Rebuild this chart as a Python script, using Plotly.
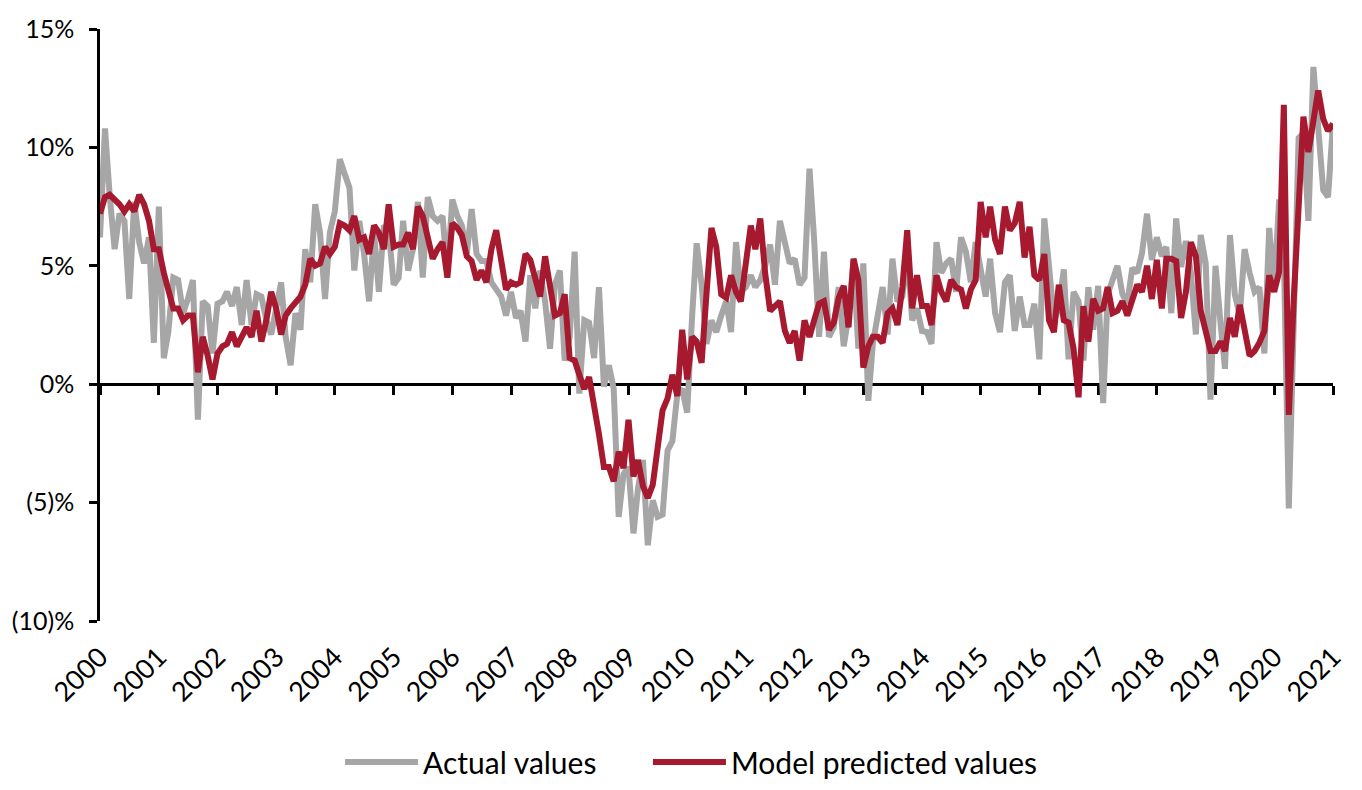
import pandas as pd
import plotly.graph_objects as go

start_month = "2000-01-01"
n_months = 253

actual_values = [
    6.2, 10.8, 8.0, 5.7, 7.2, 6.9, 3.6, 7.7, 6.0, 5.1, 6.2, 1.75,
    7.5, 1.1, 2.2, 4.5, 4.4, 3.0, 3.6, 4.4, -1.5, 3.5, 3.3, 1.3,
    3.4, 3.5, 3.9, 3.3, 4.1, 2.5, 4.4, 2.5, 3.8, 3.7, 2.7, 2.1,
    3.2, 4.3, 2.0, 0.8, 3.0, 2.3, 5.7, 4.3, 7.6, 6.4, 3.6, 6.4,
    7.3, 9.5, 8.9, 8.3, 4.8, 6.9, 5.5, 3.5, 6.4, 3.9, 6.7, 6.5,
    4.2, 4.5, 6.9, 4.8, 5.7, 7.7, 4.5, 7.9, 7.1, 6.9, 7.1, 4.7,
    7.8, 7.1, 6.7, 5.5, 7.4, 5.5, 5.2, 5.2, 4.3, 4.0, 3.7, 2.9,
    3.9, 2.8, 3.1, 1.8, 4.6, 3.2, 4.8, 3.5, 1.5, 4.2, 4.8, 1.0,
    2.0, 5.6, -0.4, 2.7, 2.6, 1.1, 4.1, -0.1, 0.8, -0.2, -5.6, -3.8,
    -3.5, -6.3, -4.4, -3.2, -6.8, -4.9, -5.6, -5.5, -2.8, -2.4, -0.4, -0.2,
    -1.2, 2.9, 5.95, 4.2, 1.7, 2.7, 2.2, 2.9, 3.5, 2.2, 6.0, 3.9,
    4.1, 4.6, 4.1, 4.4, 5.0, 5.9, 4.2, 6.9, 6.0, 5.1, 5.3, 4.2,
    4.5, 9.1, 6.1, 2.0, 5.6, 2.0, 2.4, 4.1, 1.6, 2.9, 5.2, 1.5,
    5.1, -0.7, 1.7, 3.0, 4.1, 2.1, 5.3, 3.5, 3.7, 5.6, 2.7, 3.2,
    2.25, 2.2, 1.7, 6.0, 4.7, 5.1, 5.3, 3.9, 6.2, 5.6, 4.3, 6.0,
    5.0, 3.7, 5.3, 3.0, 2.2, 4.3, 4.6, 2.25, 3.7, 2.5, 2.5, 3.4,
    1.05, 7.0, 5.0, 2.7, 3.2, 4.85, 1.05, 3.9, 3.5, 1.0, 4.1, 2.3,
    4.15, -0.8, 3.8, 4.4, 5.0, 3.8, 3.4, 4.9, 4.7, 5.55, 7.2, 5.25,
    6.2, 5.4, 5.8, 3.0, 7.0, 4.95, 6.05, 4.7, 2.1, 6.3, 5.1, -0.65,
    5.0, 2.6, 0.65, 6.3, 3.8, 2.9, 5.7, 4.7, 3.9, 4.1, 1.3, 6.6,
    4.0, 7.8, 5.5, -5.25, 2.0, 10.4, 10.6, 6.9, 13.4, 10.8, 8.2, 7.9,
    11.0,
]

model_values = [
    7.2, 7.9, 8.0, 7.8, 7.6, 7.3, 7.6, 7.3, 8.0, 7.6, 6.9, 5.7,
    5.7, 4.7, 3.9, 3.2, 3.2, 2.7, 2.9, 2.9, 0.5, 2.0, 1.2, 0.2,
    1.3, 1.6, 1.7, 2.2, 1.6, 2.0, 2.4, 2.0, 3.1, 1.8, 2.7, 3.9,
    3.2, 2.1, 2.9, 3.2, 3.5, 3.7, 4.2, 5.3, 5.0, 5.1, 5.8, 5.5,
    5.8, 6.8, 6.7, 6.5, 7.1, 6.1, 6.2, 5.5, 6.7, 6.4, 5.7, 7.6,
    5.8, 5.9, 5.9, 6.4, 5.7, 7.5, 7.1, 6.3, 5.3, 5.7, 6.0, 4.5,
    6.8, 6.6, 6.3, 5.4, 5.2, 4.4, 4.8, 4.3, 5.7, 6.5, 5.0, 4.0,
    4.3, 4.2, 4.3, 5.5, 5.25, 4.5, 3.7, 5.4, 4.2, 2.9, 3.0, 3.8,
    1.1, 1.0, 0.4, -0.2, 0.3, -0.8, -2.1, -3.5, -3.5, -4.1, -2.85, -3.55,
    -1.5, -3.9, -3.2, -4.3, -4.8, -4.25, -2.7, -1.1, -0.6, 0.4, -0.5, 2.3,
    0.2, 2.0, 1.8, 0.9, 3.8, 6.6, 5.8, 3.8, 3.65, 4.6, 3.9, 3.5,
    5.1, 6.7, 5.7, 7.0, 4.7, 3.1, 3.3, 3.5, 2.25, 1.75, 2.25, 1.0,
    2.7, 2.0, 2.7, 3.4, 3.5, 2.3, 2.6, 3.65, 4.15, 2.4, 5.3, 4.4,
    0.7, 1.6, 2.0, 2.0, 1.75, 3.0, 3.2, 2.5, 4.1, 6.5, 3.2, 4.6,
    3.3, 3.3, 2.5, 4.6, 3.9, 3.5, 4.4, 4.1, 4.0, 3.2, 4.0, 4.4,
    7.7, 6.2, 7.5, 6.1, 5.5, 7.5, 6.5, 6.8, 7.7, 5.35, 6.65, 4.6,
    4.4, 5.5, 2.7, 2.2, 4.2, 2.7, 2.6, 1.5, -0.55, 3.3, 1.8, 3.6,
    3.1, 3.2, 4.1, 3.0, 3.1, 3.5, 2.9, 3.65, 4.2, 3.9, 5.0, 3.6,
    5.25, 3.2, 5.3, 5.3, 5.2, 2.8, 3.9, 6.0, 5.4, 3.1, 2.3, 1.4,
    1.4, 1.8, 1.4, 2.8, 2.0, 3.35, 2.3, 1.2, 1.4, 1.75, 2.25, 4.6,
    3.9, 4.75, 11.8, -1.3, 3.5, 8.0, 11.3, 9.8, 11.0, 12.4, 11.2, 10.7,
    11.0,
]

year_ticks = list(range(2000, 2022))
y_tick_values = [-10, -5, 0, 5, 10, 15]
y_tick_labels = ["(10)%", "(5)%", "0%", "5%", "10%", "15%"]

months = pd.date_range(start_month, periods=n_months, freq="MS")
tick_dates = [f"{y}-01-01" for y in year_ticks]
tick_text = [str(y) for y in year_ticks]
x_range = [tick_dates[0], tick_dates[-1]]

FONT = "Lato, Open Sans, sans-serif"
GRAY = "#A6A6A6"
RED = "#A6192E"

fig = go.Figure()
fig.add_trace(go.Scatter(
    x=months, y=actual_values, name="Actual values", mode="lines",
    line=dict(color=GRAY, width=6), xaxis="x", yaxis="y", legend="legend",
))
fig.add_trace(go.Scatter(
    x=months, y=model_values, name="Model predicted values", mode="lines",
    line=dict(color=RED, width=6), xaxis="x2", yaxis="y", legend="legend2",
))

legend_style = dict(
    orientation="h", xanchor="left", y=-0.238, yanchor="middle",
    font=dict(family=FONT, size=30, color="black"),
    itemwidth=73, bgcolor="rgba(0,0,0,0)",
)

# the page body adds an 8px offset, so the figure is 8px smaller on each axis
fig.update_layout(
    width=1354, height=782,
    margin=dict(l=92, r=29, t=21, b=169, autoexpand=False),
    paper_bgcolor="white", plot_bgcolor="white",
    font=dict(family=FONT, size=27, color="black"),
    showlegend=True,
    legend=dict(x=0.1947, **legend_style),
    legend2=dict(x=0.4444, **legend_style),
    # axis drawn along the zero line, carrying the year tick marks
    xaxis=dict(
        type="date", range=x_range, anchor="free", position=0.4,
        showline=True, linecolor="black", linewidth=2.5,
        ticks="outside", ticklen=9, tickwidth=2.5, tickcolor="black",
        tickvals=tick_dates, showticklabels=False,
        showgrid=False, zeroline=False, layer="below traces",
        fixedrange=True,
    ),
    # axis at the bottom carrying the rotated year labels
    xaxis2=dict(
        type="date", range=x_range, overlaying="x", anchor="y", side="bottom",
        showline=False, ticks="", tickvals=tick_dates, ticktext=tick_text,
        tickangle=-45, ticklabelstandoff=14,
        tickfont=dict(family=FONT, size=27, color="black"),
        showgrid=False, zeroline=False, fixedrange=True,
    ),
    yaxis=dict(
        range=[-10, 15], domain=[0, 1],
        tickvals=y_tick_values, ticktext=y_tick_labels,
        showline=True, linecolor="black", linewidth=2.5,
        ticks="outside", ticklen=8, tickwidth=2.5, tickcolor="black",
        ticklabelstandoff=10,
        tickfont=dict(family=FONT, size=25, color="black"),
        showgrid=False, zeroline=False, fixedrange=True,
    ),
)

fig.write_html("out.html")
